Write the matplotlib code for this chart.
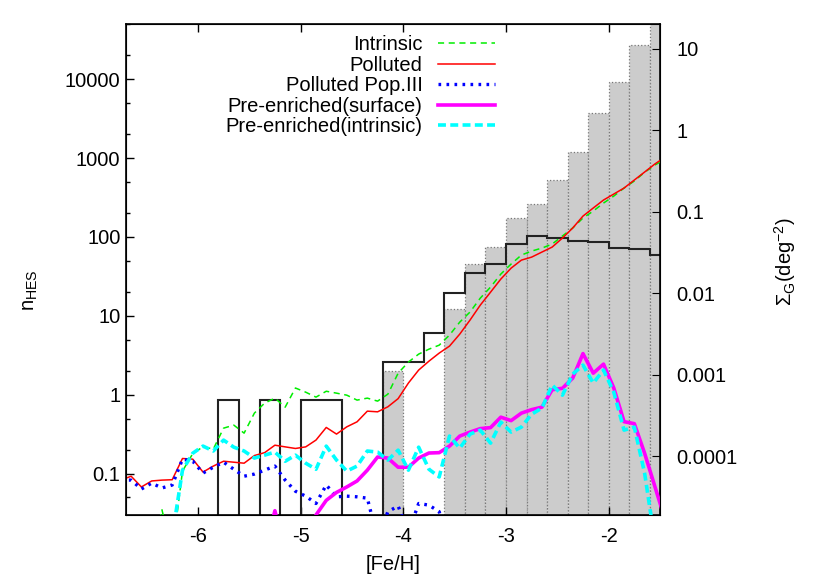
import numpy as np
import matplotlib
matplotlib.use("Agg")
import matplotlib.pyplot as plt
from matplotlib.ticker import FixedLocator, NullFormatter, NullLocator

plt.rcParams["font.family"] = ["Liberation Sans", "DejaVu Sans"]
plt.rcParams["mathtext.fontset"] = "custom"
plt.rcParams["mathtext.rm"] = "Liberation Sans"
plt.rcParams["axes.unicode_minus"] = False

# model curves, sampled at bin centres every 0.1 dex
feh = np.round(np.arange(-6.75, -1.40, 0.1), 2)

intrinsic = [0.01, 0.01, 0.01, 0.01, 0.035, 0.01, 0.108, 0.180, 0.220, 0.205,
             0.378, 0.413, 0.327, 0.586, 0.785, 0.908, 0.698, 1.22, 1.08, 0.935,
             1.11, 1.05, 0.99, 0.857, 0.908, 0.832, 1.02, 1.88, 2.60, 3.28,
             3.79, 4.26, 5.71, 8.34, 11.2, 16.8, 23.2, 33.9, 45.4, 59.0,
             66.3, 72.3, 81.3, 103, 130, 174, 213, 269, 330, 417,
             512, 660, 815, 971]
polluted = [0.083, 0.093, 0.068, 0.081, 0.083, 0.084, 0.156, 0.153, 0.105, 0.125,
            0.144, 0.140, 0.136, 0.170, 0.185, 0.230, 0.219, 0.209, 0.219, 0.267,
            0.386, 0.318, 0.393, 0.455, 0.621, 0.609, 0.705, 0.895, 1.41, 2.06,
            2.67, 3.38, 4.14, 5.88, 8.85, 13.7, 20.0, 29.3, 40.3, 50.9,
            55.6, 64.4, 74.5, 96.9, 130, 184, 233, 294, 350, 417,
            527, 665, 841, 1030]
pop3 = [0.083, 0.083, 0.064, 0.076, 0.066, 0.072, 0.153, 0.144, 0.102, 0.121,
        0.140, 0.114, 0.093, 0.099, 0.111, 0.125, 0.083, 0.060, 0.052, 0.042,
        0.072, 0.051, 0.052, 0.051, 0.049, 0.015, 0.033, 0.039, 0.018, 0.042,
        0.040, 0.033, 0.010] + [np.nan] * 21
pre_surface = [np.nan] * 14 + [0.01, 0.034, 0.01, 0.01, 0.01, 0.030,
               0.046, 0.058, 0.068, 0.081, 0.111, 0.163, 0.158, 0.121, 0.121, 0.158,
               0.183, 0.185, 0.224, 0.300, 0.337, 0.373, 0.384, 0.521, 0.471, 0.586,
               0.649, 0.698, 1.16, 1.21, 1.63, 3.33, 1.88, 2.45, 1.22, 0.457,
               0.431, 0.182, 0.069, 0.026]
pre_intrinsic = [np.nan] * 5 + [0.016, 0.111, 0.182, 0.224, 0.194,
                 0.267, 0.217, 0.194, 0.158, 0.172, 0.188, 0.144, 0.172, 0.136, 0.114,
                 0.224, 0.149, 0.108, 0.125, 0.194, 0.188, 0.149, 0.199, 0.111, 0.217,
                 0.114, 0.091, 0.300, 0.211, 0.318, 0.357, 0.244, 0.451, 0.337, 0.390,
                 0.569, 0.678, 1.33, 0.99, 1.83, 2.38, 1.41, 2.06, 1.08, 0.357,
                 0.390, 0.102, 0.014, np.nan]

# histograms, 0.2 dex bins
gray_edges = np.round(np.arange(-4.2, -1.39, 0.2), 2)
gray_counts = [2.0, 0, 0, 12.2, 45, 75, 175, 259, 526, 1200, 3690, 9100, 27000, 80000]
hes_edges = np.round(np.arange(-5.8, -1.39, 0.2), 2)
hes_counts = [0.857, 0, 0.857, 0, 0.857, 0.857, 0, 0, 2.6, 2.6, 6.0,
              19.6, 35.2, 45.0, 81.3, 104, 97.7, 88.7, 85.4, 73.0, 70.9, 58.5]

xticks = [-6, -5, -4, -3, -2]
left_ticks = [0.1, 1, 10, 100, 1000, 10000]
right_ticks = [1e-4, 1e-3, 1e-2, 0.1, 1, 10]
right_labels = ["0.0001", "0.001", "0.01", "0.1", "1", "10"]

FS = 14.5


def main():
    fig = plt.figure(figsize=(8.3, 5.81), dpi=100)
    ax = fig.add_axes([126 / 830, 66 / 581, 534 / 830, 491 / 581])
    ax.set_yscale("log")

    gray = np.array(gray_counts, dtype=float)
    ax.bar(gray_edges[:-1], np.where(gray > 0, gray, np.nan), width=0.2, align="edge",
           bottom=1e-3, color="#cccccc", edgecolor="#777777", linestyle=":",
           linewidth=0.9, zorder=1)
    hes = np.array(hes_counts, dtype=float)
    ax.stairs(np.where(hes > 0, hes, 1e-3), hes_edges, baseline=1e-3,
              color="#222222", linewidth=1.5, zorder=2)

    ax.plot(feh, intrinsic, color="#00ee00", lw=1.1, ls=(0, (4, 3)), label="Intrinsic", zorder=3)
    ax.plot(feh, polluted, color="#ff0000", lw=1.1, label="Polluted", zorder=4)
    ax.plot(feh, pop3, color="#0000ff", lw=2.4, ls=(0, (0.8, 1.6)), label="Polluted Pop.III", zorder=5)
    ax.plot(feh, pre_surface, color="#ff00ff", lw=2.6, label="Pre-enriched(surface)", zorder=6)
    ax.plot(feh, pre_intrinsic, color="#00ffff", lw=2.6, ls=(0, (2.2, 1.2)),
            label="Pre-enriched(intrinsic)", zorder=7)

    ax.set_xlim(-6.7, -1.5)
    ax.set_ylim(0.03, 5e4)
    ax.set_xticks(xticks)
    ax.set_xticklabels([str(t) for t in xticks])
    ax.yaxis.set_major_locator(FixedLocator(left_ticks))
    ax.set_yticklabels(["0.1", "1", "10", "100", "1000", "10000"])
    minors = [m * 10.0 ** e for e in range(-2, 5) for m in (2, 5)]
    ax.yaxis.set_minor_locator(FixedLocator(minors))
    ax.yaxis.set_minor_formatter(NullFormatter())
    ax.tick_params(which="both", direction="in", labelsize=FS, top=True, right=False)
    ax.tick_params(which="major", length=6, width=1)
    ax.tick_params(which="minor", length=3, width=1)
    ax.tick_params(axis="x", pad=9)
    ax.tick_params(axis="y", pad=4)
    for s in ax.spines.values():
        s.set_linewidth(1.2)

    ax2 = ax.twinx()
    ax2.set_yscale("log")
    ax2.set_ylim(1.9e-5, 20)
    ax2.yaxis.set_major_locator(FixedLocator(right_ticks))
    ax2.set_yticklabels(right_labels)
    ax2.yaxis.set_minor_locator(NullLocator())
    ax2.tick_params(direction="in", length=6, labelsize=FS, pad=12)

    fig.text(393 / 830, 1 - 565 / 581, "[Fe/H]", ha="center", va="center", fontsize=FS)
    fig.text(31 / 830, 1 - 290 / 581, r"$\mathregular{n_{HES}}$", rotation=90,
             ha="center", va="center", fontsize=FS)
    fig.text(785 / 830, 1 - 262 / 581, r"$\mathregular{\Sigma_G(deg^{-2})}$", rotation=90,
             ha="center", va="center", fontsize=FS)

    leg = ax.legend(loc="upper right", bbox_to_anchor=(0.691, 0.977), frameon=False,
                    markerfirst=False, fontsize=FS, handlelength=2.85, handletextpad=0.75,
                    labelspacing=0.075, borderpad=0, borderaxespad=0)
    for vp in leg._legend_handle_box.get_children():
        vp.align = "right"

    fig.savefig("out.png", dpi=100)
    plt.close(fig)


if __name__ == "__main__":
    main()
